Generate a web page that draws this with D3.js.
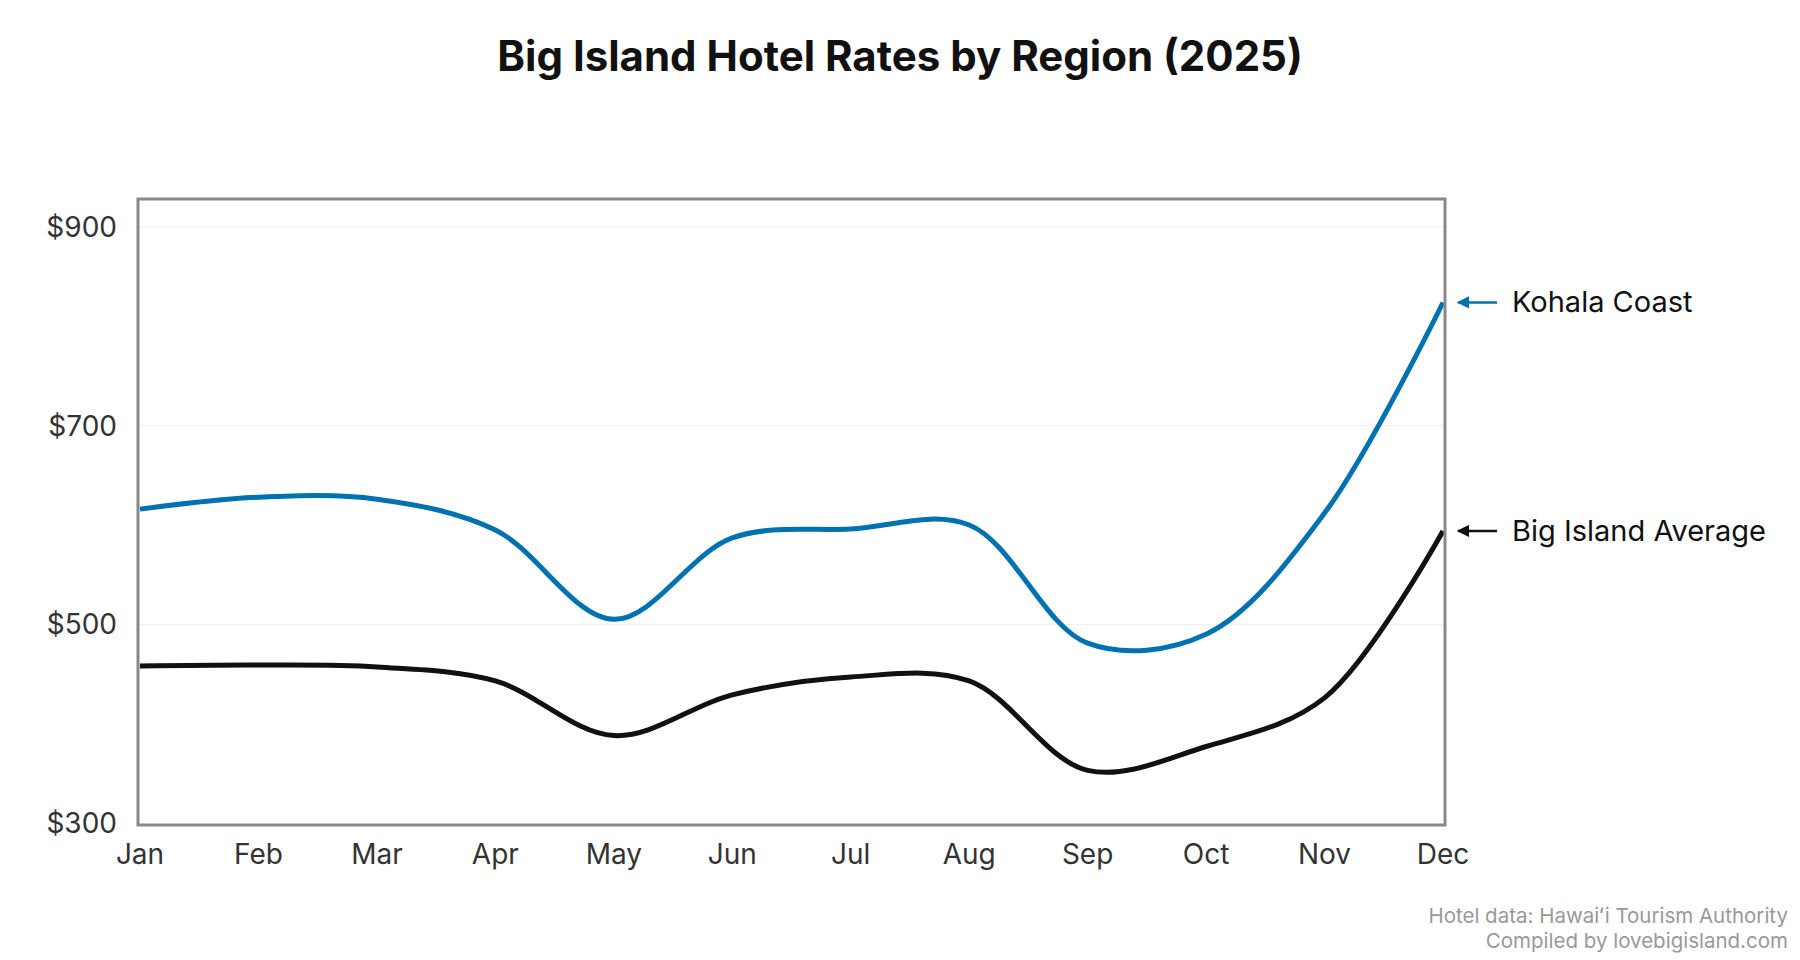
<!DOCTYPE html>
<html><head><meta charset="utf-8">
<script src="https://cdn.jsdelivr.net/npm/d3@7"></script>
<style>body{margin:0;background:#fff}text{font-family:Inter,"Noto Sans",sans-serif}</style>
</head><body><svg id="c" width="1800" height="960"></svg>
<script>
const months=["Jan","Feb","Mar","Apr","May","Jun","Jul","Aug","Sep","Oct","Nov","Dec"];
const kohala=[616,628,626,595,505,587,596,600,481,490,612,824];
const average=[458,459,457,443,388,429,447,443,353,377,426,594];
const yTicks=[300,500,700,900];
const seriesNames=["Kohala Coast","Big Island Average"];
const colors=["#0072B2","#111111"];

const svg=d3.select("#c");
const L=138,R=1445,T=199,B=825;
const x=d3.scalePoint().domain(months).range([L+2,R-2]);
const y=d3.scaleLinear().domain([300,900]).range([823,227]);

svg.append("text").attr("x",900).attr("y",71).attr("text-anchor","middle")
  .attr("font-size",42).attr("font-weight",700).attr("fill","#111").text("Big Island Hotel Rates by Region (2025)");

svg.append("g").selectAll("line").data(yTicks.slice(1)).join("line")
  .attr("x1",L).attr("x2",R).attr("y1",d=>y(d)).attr("y2",d=>y(d)).attr("stroke","#eee").attr("stroke-width",1);

const line=d3.line().x((d,i)=>x(months[i])).y(d=>y(d)).curve(d3.curveCatmullRom.alpha(0.5));
[kohala,average].forEach((s,k)=>{
  svg.append("path").attr("d",line(s)).attr("fill","none").attr("stroke",colors[k]).attr("stroke-width",5);
});

svg.append("rect").attr("x",L).attr("y",T).attr("width",R-L).attr("height",B-T)
  .attr("fill","none").attr("stroke","#888").attr("stroke-width",3);

svg.append("g").selectAll("text").data(yTicks).join("text")
  .attr("x",117).attr("y",d=>y(d)+10).attr("text-anchor","end").attr("font-size",28).attr("fill","#333").text(d=>"$"+d);
svg.append("g").selectAll("text").data(months).join("text")
  .attr("x",d=>x(d)).attr("y",864).attr("text-anchor","middle").attr("font-size",28).attr("fill","#333").text(d=>d);

const defs=svg.append("defs");
colors.forEach((c,k)=>{
  defs.append("marker").attr("id","m"+k).attr("viewBox","0 0 10 10").attr("refX",9).attr("refY",5)
   .attr("markerWidth",5).attr("markerHeight",5).attr("orient","auto")
   .append("path").attr("d","M0,0L10,5L0,10z").attr("fill",c);
});
[kohala,average].forEach((s,k)=>{
  const yy=y(s[11]);
  svg.append("line").attr("x1",1497).attr("x2",1458).attr("y1",yy).attr("y2",yy)
    .attr("stroke",colors[k]).attr("stroke-width",2.5).attr("marker-end","url(#m"+k+")");
  svg.append("text").attr("x",1512).attr("y",yy+10).attr("font-size",29).attr("fill","#111").text(seriesNames[k]);
});

svg.append("text").attr("x",1788).attr("y",923).attr("text-anchor","end").attr("font-size",20.5).attr("fill","#999").text("Hotel data: Hawaiʻi Tourism Authority");
svg.append("text").attr("x",1788).attr("y",948).attr("text-anchor","end").attr("font-size",20.5).attr("fill","#999").text("Compiled by lovebigisland.com");
</script></body></html>
